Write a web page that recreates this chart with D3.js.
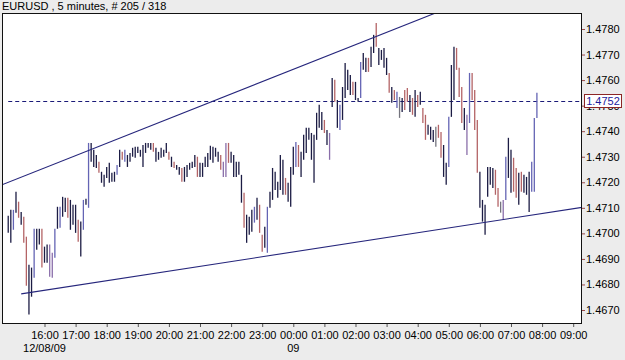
<!DOCTYPE html>
<html>
<head>
<meta charset="utf-8">
<script src="https://cdn.jsdelivr.net/npm/d3@7"></script>
<style>
  body { margin: 0; background: #ececec; }
  #chart text { font-family: "Liberation Sans", Arial, sans-serif; }
</style>
</head>
<body>
<div id="chart"></div>
<script>
//************* data ***************/
var symbolTitle = "EURUSD , 5 minutes, # 205 / 318";
var firstBar = "2009-12-08 14:50";   // bars every 5 minutes from here
var barMinutes = 5;

var barHigh = [
  1.47069, 1.47092, 1.47092, 1.47163, 1.47124, 1.47084, 1.47065, 1.46987, 1.46877, 1.46866,
  1.47018, 1.47018, 1.47018, 1.47018, 1.46948, 1.46956, 1.46956, 1.46924, 1.47018, 1.47104,
  1.47104, 1.47143, 1.47139, 1.47139, 1.47131, 1.47112, 1.47112, 1.47053, 1.47046, 1.47131,
  1.47135, 1.47354, 1.47354, 1.47327, 1.47307, 1.47280, 1.47241, 1.47229, 1.47260, 1.47276,
  1.47237, 1.47241, 1.47268, 1.47327, 1.47319, 1.47327, 1.47307, 1.47315, 1.47335, 1.47339,
  1.47339, 1.47327, 1.47346, 1.47354, 1.47354, 1.47354, 1.47354, 1.47335, 1.47319, 1.47335,
  1.47327, 1.47354, 1.47319, 1.47300, 1.47280, 1.47268, 1.47260, 1.47256, 1.47260, 1.47268,
  1.47276, 1.47280, 1.47307, 1.47300, 1.47276, 1.47276, 1.47300, 1.47315, 1.47343, 1.47339,
  1.47335, 1.47319, 1.47307, 1.47280, 1.47354, 1.47354, 1.47319, 1.47307, 1.47280, 1.47280,
  1.47229, 1.47159, 1.47073, 1.47065, 1.47092, 1.47104, 1.47139, 1.47112, 1.46995, 1.47026,
  1.47104, 1.47163, 1.47256, 1.47241, 1.47202, 1.47307, 1.47288, 1.47217, 1.47198, 1.47260,
  1.47339, 1.47358, 1.47346, 1.47319, 1.47386, 1.47413, 1.47413, 1.47393, 1.47386, 1.47472,
  1.47503, 1.47475, 1.47444, 1.47405, 1.47393, 1.47608, 1.47601, 1.47522, 1.47503, 1.47573,
  1.47667, 1.47640, 1.47620, 1.47593, 1.47593, 1.47530, 1.47671, 1.47706, 1.47687, 1.47687,
  1.47730, 1.47777, 1.47823, 1.47726, 1.47718, 1.47726, 1.47687, 1.47628, 1.47573, 1.47561,
  1.47554, 1.47534, 1.47530, 1.47561, 1.47569, 1.47542, 1.47530, 1.47561, 1.47542, 1.47554,
  1.47491, 1.47464, 1.47425, 1.47417, 1.47405, 1.47417, 1.47425, 1.47397, 1.47346, 1.47276,
  1.47456, 1.47659, 1.47730, 1.47726, 1.47648, 1.47573, 1.47491, 1.47464, 1.47628, 1.47628,
  1.47561, 1.47444, 1.47241, 1.47131, 1.47112, 1.47260, 1.47260, 1.47256, 1.47249, 1.47178,
  1.47124, 1.47131, 1.47300, 1.47374, 1.47327, 1.47296, 1.47256, 1.47237, 1.47241, 1.47229,
  1.47221, 1.47241, 1.47280, 1.47452, 1.47550
];

var barLow = [
  1.47002, 1.46963, 1.47014, 1.47081, 1.47061, 1.47034, 1.46963, 1.46795, 1.46682, 1.46752,
  1.46826, 1.46936, 1.46956, 1.46866, 1.46885, 1.46885, 1.46830, 1.46826, 1.46905, 1.47018,
  1.47022, 1.47065, 1.47084, 1.47061, 1.47014, 1.47034, 1.47002, 1.46967, 1.46909, 1.47014,
  1.47112, 1.47100, 1.47280, 1.47260, 1.47256, 1.47237, 1.47198, 1.47182, 1.47217, 1.47198,
  1.47202, 1.47202, 1.47229, 1.47260, 1.47288, 1.47280, 1.47260, 1.47280, 1.47300, 1.47296,
  1.47315, 1.47300, 1.47260, 1.47315, 1.47335, 1.47327, 1.47319, 1.47280, 1.47288, 1.47296,
  1.47300, 1.47315, 1.47288, 1.47260, 1.47256, 1.47249, 1.47229, 1.47202, 1.47202, 1.47221,
  1.47249, 1.47256, 1.47260, 1.47221, 1.47221, 1.47221, 1.47260, 1.47260, 1.47288, 1.47276,
  1.47300, 1.47280, 1.47249, 1.47221, 1.47221, 1.47276, 1.47276, 1.47221, 1.47221, 1.47229,
  1.47120, 1.47022, 1.46963, 1.46995, 1.47006, 1.47042, 1.47053, 1.47002, 1.46928, 1.46944,
  1.46924, 1.47100, 1.47131, 1.47170, 1.47139, 1.47170, 1.47151, 1.47151, 1.47124, 1.47104,
  1.47229, 1.47260, 1.47260, 1.47221, 1.47288, 1.47315, 1.47366, 1.47288, 1.47198, 1.47366,
  1.47413, 1.47405, 1.47393, 1.47346, 1.47288, 1.47495, 1.47515, 1.47413, 1.47405, 1.47444,
  1.47530, 1.47561, 1.47542, 1.47542, 1.47522, 1.47515, 1.47530, 1.47640, 1.47632, 1.47632,
  1.47651, 1.47706, 1.47730, 1.47659, 1.47679, 1.47648, 1.47620, 1.47550, 1.47511, 1.47522,
  1.47491, 1.47452, 1.47475, 1.47483, 1.47515, 1.47475, 1.47464, 1.47456, 1.47495, 1.47503,
  1.47432, 1.47366, 1.47386, 1.47366, 1.47358, 1.47339, 1.47374, 1.47296, 1.47221, 1.47190,
  1.47260, 1.47456, 1.47522, 1.47640, 1.47534, 1.47432, 1.47405, 1.47307, 1.47432, 1.47522,
  1.47405, 1.47237, 1.47100, 1.47046, 1.46995, 1.47143, 1.47190, 1.47178, 1.47151, 1.47104,
  1.47081, 1.47053, 1.47131, 1.47217, 1.47159, 1.47163, 1.47139, 1.47112, 1.47163, 1.47159,
  1.47151, 1.47084, 1.47163, 1.47163, 1.47452
];

// k = neutral, b = up, r = down, p / g = mixed shades seen on the chart
var barTone = (
  "kkbkrkrrkk" + "bkkrkkppbk" + "bkkrkkkrkb" + "kbkkkrkkkk" + "kkbkrbkkkk" +
  "kkkkkkrkkk" + "kkrkrkkrkk" + "kkkrkkkkkk" + "kkrpprkkkk" + "krkkkbkrrk" +
  "bkkkkkkrkk" + "kbrkkkkkkk" + "kkrkpkrkbk" + "kkkrkkbkkr" + "kkrkkkkrkr" +
  "bgkrrkrkrk" + "rrkkkgrrkk" + "bkkrrrkpbr" + "rrkkkkkkrr" + "gpbkkrrkrk" +
  "kkbbb").split("");

var priceTicks = [1.4670, 1.4680, 1.4690, 1.4700, 1.4710, 1.4720, 1.4730,
                  1.4740, 1.4750, 1.4760, 1.4770, 1.4780];
var hourTicks = ["16:00", "17:00", "18:00", "19:00", "20:00", "21:00", "22:00", "23:00",
                 "00:00", "01:00", "02:00", "03:00", "04:00", "05:00", "06:00", "07:00",
                 "08:00", "09:00"];
var dateLabels = [{t: "2009-12-08 16:00", label: "12/08/09"},
                  {t: "2009-12-09 00:00", label: "09"}];

var currentPrice = 1.4752;
var trendUpper = [{t: "2009-12-08 16:00", p: 1.47256}, {t: "2009-12-09 04:00", p: 1.47835}];
var trendLower = [{t: "2009-12-08 15:15", p: 1.46763}, {t: "2009-12-09 06:00", p: 1.47040}];

//************* set dimensions ***************/
var W = 625, H = 360;
var plot = {left: 2, right: 582, top: 13, bottom: 324};

var parseT = d3.timeParse("%Y-%m-%d %H:%M");
var t0 = parseT(firstBar);

var bars = barHigh.map(function(h, i) {
  return {t: d3.timeMinute.offset(t0, i * barMinutes), high: h, low: barLow[i], tone: barTone[i]};
});

var toneColor = {k: "#1c1c44", b: "#6464b4", r: "#b46466", p: "#8a6eaa", g: "#74747e"};

//*************** setup svg *****************/
var svg = d3.select("#chart")
  .append("svg")
    .attr("width", W)
    .attr("height", H);

svg.append("rect")
  .attr("width", W).attr("height", H)
  .attr("fill", "#ececec");

svg.append("rect")
  .attr("x", plot.left).attr("y", plot.top)
  .attr("width", plot.right - plot.left).attr("height", plot.bottom - plot.top)
  .attr("fill", "#ffffff");

svg.append("defs").append("clipPath")
    .attr("id", "plotClip")
  .append("rect")
    .attr("x", plot.left).attr("y", plot.top)
    .attr("width", plot.right - plot.left).attr("height", plot.bottom - plot.top);

//***************** title *******************/
svg.append("text")
  .attr("x", 2)
  .attr("y", 10)
  .style("font-size", "11px")
  .attr("fill", "#000")
  .text(symbolTitle);

//************* scales ***************/
var x = d3.scaleTime()
  .domain([parseT("2009-12-08 14:38"), parseT("2009-12-09 09:17")])
  .range([plot.left, plot.right]);

var y = d3.scaleLinear()
  .domain([1.466452, 1.478626])
  .range([plot.bottom, plot.top]);

var g = svg.append("g").attr("clip-path", "url(#plotClip)");

//************* current price line ***************/
g.append("line")
  .attr("x1", x(t0)).attr("x2", plot.right)
  .attr("y1", Math.round(y(currentPrice)) + 0.5)
  .attr("y2", Math.round(y(currentPrice)) + 0.5)
  .attr("stroke", "#1a1a78")
  .attr("stroke-dasharray", "4,3");

//************** bars *****************/
g.selectAll("line.bar")
  .data(bars)
  .enter()
  .append("line")
    .attr("class", "bar")
    .attr("x1", function(d) { return x(d.t); })
    .attr("x2", function(d) { return x(d.t); })
    .attr("y1", function(d) { return y(d.high); })
    .attr("y2", function(d) { return y(d.low); })
    .attr("stroke", function(d) { return toneColor[d.tone]; })
    .attr("stroke-width", 1.3);

//************** trend lines *****************/
function trendPath(pts, extendLeft) {
  var xa = x(parseT(pts[0].t)), ya = y(pts[0].p);
  var xb = x(parseT(pts[1].t)), yb = y(pts[1].p);
  var k = (yb - ya) / (xb - xa);
  var xs = extendLeft ? plot.left : xa;
  var xe = plot.right + 40;
  return [[xs, ya + k * (xs - xa)], [xe, ya + k * (xe - xa)]];
}

[[trendUpper, true], [trendLower, false]].forEach(function(tl) {
  g.append("path")
    .attr("d", d3.line()(trendPath(tl[0], tl[1])))
    .attr("fill", "none")
    .attr("stroke", "#26267c")
    .attr("stroke-width", 1.1);
});

//************** frame *****************/
svg.append("rect")
  .attr("x", plot.left + 0.5).attr("y", plot.top + 0.5)
  .attr("width", plot.right - plot.left - 1).attr("height", plot.bottom - plot.top - 1)
  .attr("fill", "none")
  .attr("stroke", "#111");

//************* Axes ******+*********/
var hourDates = d3.timeHour.range(parseT("2009-12-08 16:00"), parseT("2009-12-09 09:01"));

var xAxis = svg.append("g")
  .attr("transform", "translate(0," + plot.bottom + ")")
  .call(d3.axisBottom(x)
    .tickValues(hourDates)
    .tickFormat(function(d, i) { return hourTicks[i]; })
    .tickSize(3)
    .tickPadding(4));
xAxis.select(".domain").remove();
xAxis.selectAll("line").attr("stroke", "#555");
xAxis.selectAll("text").style("font-size", "11px").attr("fill", "#000");

svg.selectAll("text.dateLabel")
  .data(dateLabels)
  .enter()
  .append("text")
    .attr("class", "dateLabel")
    .attr("x", function(d) { return x(parseT(d.t)); })
    .attr("y", 352)
    .attr("text-anchor", "middle")
    .style("font-size", "11px")
    .attr("fill", "#000")
    .text(function(d) { return d.label; });

var yAxis = svg.append("g")
  .attr("transform", "translate(" + plot.right + ",0)")
  .call(d3.axisRight(y)
    .tickValues(priceTicks)
    .tickFormat(d3.format(".4f"))
    .tickSize(3)
    .tickPadding(1));
yAxis.select(".domain").remove();
yAxis.selectAll("line").attr("stroke", "#9a4a4a");
yAxis.selectAll("text").style("font-size", "11px").attr("fill", "#000");

//*************** price label *****************/
var py = Math.round(y(currentPrice));
svg.append("rect")
  .attr("x", 584.5).attr("y", py - 6.5)
  .attr("width", 37).attr("height", 13)
  .attr("fill", "#fff")
  .attr("stroke", "#8c2626");

svg.append("text")
  .attr("x", 603)
  .attr("y", py + 4)
  .attr("text-anchor", "middle")
  .style("font-size", "11px")
  .attr("fill", "#1c1c9c")
  .text(d3.format(".4f")(currentPrice));
</script>
</body>
</html>
